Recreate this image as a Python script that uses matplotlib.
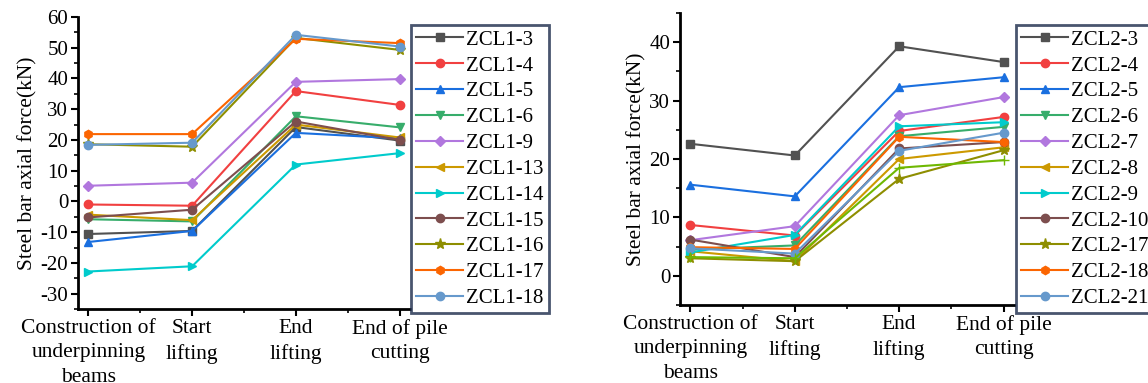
import matplotlib
matplotlib.use("Agg")
import matplotlib.pyplot as plt
from matplotlib.ticker import MultipleLocator

plt.rcParams['font.family'] = ['Liberation Serif', 'DejaVu Serif']
plt.rcParams['axes.unicode_minus'] = False

stages = ['Construction of\nunderpinning\nbeams', 'Start\nlifting', 'End\nlifting', 'End of pile\ncutting']

# left panel: ZCL1 gauges
names1 = ['ZCL1-3', 'ZCL1-4', 'ZCL1-5', 'ZCL1-6', 'ZCL1-9', 'ZCL1-13',
          'ZCL1-14', 'ZCL1-15', 'ZCL1-16', 'ZCL1-17', 'ZCL1-18']
zcl1_3 = [-10.6, -9.6, 24.2, 19.8]
zcl1_4 = [-1.0, -1.4, 35.9, 31.4]
zcl1_5 = [-13.2, -9.6, 22.3, 20.5]
zcl1_6 = [-5.8, -6.5, 27.7, 24.1]
zcl1_9 = [5.1, 6.1, 38.9, 39.8]
zcl1_13 = [-4.3, -6.1, 25.0, 20.8]
zcl1_14 = [-22.8, -21.1, 12.0, 15.7]
zcl1_15 = [-5.2, -2.7, 26.0, 20.0]
zcl1_16 = [18.6, 17.8, 53.2, 49.3]
zcl1_17 = [21.9, 21.9, 52.9, 51.5]
zcl1_18 = [18.4, 19.1, 54.2, 50.4]
data1 = [zcl1_3, zcl1_4, zcl1_5, zcl1_6, zcl1_9, zcl1_13,
         zcl1_14, zcl1_15, zcl1_16, zcl1_17, zcl1_18]

# right panel: ZCL2 gauges
names2 = ['ZCL2-3', 'ZCL2-4', 'ZCL2-5', 'ZCL2-6', 'ZCL2-7', 'ZCL2-8',
          'ZCL2-9', 'ZCL2-10', 'ZCL2-17', 'ZCL2-18', 'ZCL2-21']
zcl2_3 = [22.6, 20.6, 39.3, 36.6]
zcl2_4 = [8.7, 6.9, 24.8, 27.2]
zcl2_5 = [15.6, 13.6, 32.3, 34.0]
zcl2_6 = [4.5, 5.2, 23.9, 25.5]
zcl2_7 = [6.1, 8.5, 27.5, 30.6]
zcl2_8 = [4.2, 2.5, 20.0, 22.0]
zcl2_9 = [4.0, 7.0, 25.6, 26.3]
zcl2_10 = [6.2, 3.2, 21.8, 22.9]
zcl2_17 = [3.0, 2.5, 16.6, 21.5]
zcl2_18 = [4.9, 4.6, 23.8, 22.9]
zcl2_21 = [4.7, 3.8, 21.4, 24.5]
data2 = [zcl2_3, zcl2_4, zcl2_5, zcl2_6, zcl2_7, zcl2_8,
         zcl2_9, zcl2_10, zcl2_17, zcl2_18, zcl2_21]
extra2 = [3.2, 3.0, 18.5, 19.8]   # unlabelled green line

colors = ['#515151', '#F14040', '#1A6FDF', '#37AD6B', '#B177DE', '#CC9900',
          '#00CBCC', '#7D4E4E', '#8E8E00', '#FB6501', '#6699CC']
markers = ['s', 'o', '^', 'v', 'D', '<', '>', 'o', '*', 'h', 'o']

fig = plt.figure(figsize=(11.48, 3.83), dpi=100)
ax1 = fig.add_axes([78/1148, 1-309/383, 332/1148, 292/383])
ax2 = fig.add_axes([680/1148, 1-305/383, 334/1148, 292/383])

x = list(range(len(stages)))


def style(ax, ylo, yhi):
    ax.set_xlim(-0.1, 3.1)
    ax.set_ylim(ylo, yhi)
    ax.set_xticks(x)
    ax.set_xticklabels(stages, fontsize=15.5, linespacing=1.4)
    ax.xaxis.set_minor_locator(MultipleLocator(0.5))
    ax.yaxis.set_major_locator(MultipleLocator(10))
    ax.yaxis.set_minor_locator(MultipleLocator(5))
    ax.tick_params(axis='both', which='major', direction='out', length=5, width=1.5, pad=2)
    ax.tick_params(axis='y', which='major', labelsize=15)
    ax.tick_params(axis='both', which='minor', direction='out', length=3, width=1.2)
    for s in ['top', 'right']:
        ax.spines[s].set_visible(False)
    for s in ['left', 'bottom']:
        ax.spines[s].set_linewidth(2)
    ax.set_ylabel('Steel bar axial force(kN)', fontsize=15.5, labelpad=2)


for ax, names, data in [(ax1, names1, data1), (ax2, names2, data2)]:
    for name, vals, c, m in zip(names, data, colors, markers):
        ms = 8 if m == '*' else 6
        if m == 'D':
            ms = 5.5
        ax.plot(x, vals, color=c, marker=m, markersize=ms, linewidth=1.5, label=name)

ax2.plot(x, extra2, color='#6FB802', marker='+', markersize=7, linewidth=1.5)

style(ax1, -35, 60)
style(ax2, -5, 45)

for ax, bx in [(ax1, 411/1148), (ax2, 1016/1148)]:
    leg = ax.legend(loc='upper left', bbox_to_anchor=(bx, 1-25/383),
                    bbox_transform=fig.transFigure, fontsize=15,
                    handlelength=2.25, labelspacing=0.3, handletextpad=0.15,
                    borderpad=0.25, borderaxespad=0, fancybox=False)
    leg.get_frame().set_edgecolor('#1b2a4a')
    leg.get_frame().set_linewidth(2)

fig.savefig('out.png', dpi=100)
